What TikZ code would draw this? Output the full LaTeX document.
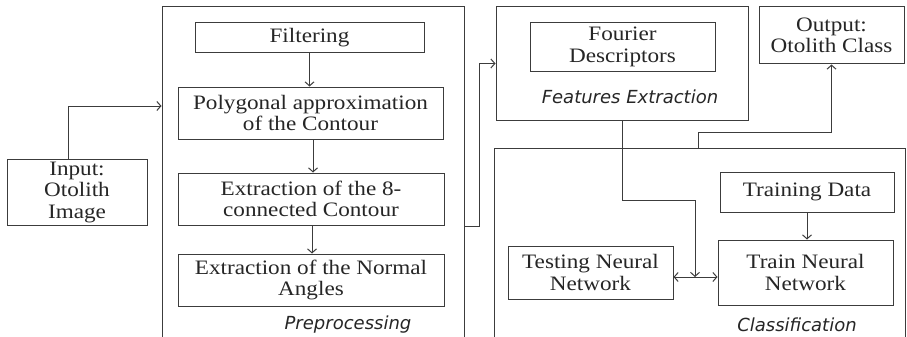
\documentclass[tikz,border=0pt]{standalone}
\usepackage{fontspec}
\setmainfont{Liberation Serif}[FakeStretch=1.13]
\newfontfamily\stagefont{DejaVu Sans}
\usetikzlibrary{arrows.meta}
\definecolor{linegray}{RGB}{60,60,60}

\begin{document}
\begin{tikzpicture}[x=1pt,y=-1pt,
  box/.style={draw=linegray, line width=1pt, inner sep=0pt, align=center,
    font=\fontsize{20.5}{21.5}\selectfont, text=black!85},
  frame/.style={draw=linegray, line width=1pt, inner sep=0pt},
  stagelabel/.style={font=\stagefont\itshape\fontsize{18}{20}\selectfont, text=black!85},
  conn/.style={draw=linegray, line width=1pt},
  arr/.style={conn, -{Straight Barb[length=4pt,width=9pt]}},
  darr/.style={conn, {Straight Barb[length=4pt,width=9pt]}-{Straight Barb[length=4pt,width=9pt]}}]

% canvas
\useasboundingbox[fill=white] (0,0) rectangle (907,337);
\clip (0,0) rectangle (907,337);

% stage frames (open below the canvas)
\node[frame, minimum width=302pt, minimum height=373pt] (prep) at (313,193.5) {};
\node[frame, minimum width=252pt, minimum height=113pt] (feat) at (622,63.5) {};
\node[frame, minimum width=411pt, minimum height=232pt] (cls) at (699.5,264) {};

% input and output
\node[box, minimum width=140pt, minimum height=66pt] (in) at (77,192)
  {Input:\\Otolith\\Image};
\node[box, minimum width=145pt, minimum height=57pt] (out) at (831.5,35.5)
  {Output:\\Otolith Class};

% preprocessing steps
\node[box, minimum width=229pt, minimum height=30pt] (filt) at (309.5,38) {Filtering};
\node[box, minimum width=265pt, minimum height=52pt] (poly) at (310.5,113)
  {Polygonal approximation\\of the Contour};
\node[box, minimum width=266pt, minimum height=52pt] (cont) at (311,199)
  {Extraction of the 8-\\connected Contour};
\node[box, minimum width=266pt, minimum height=52pt] (ang) at (311,280)
  {Extraction of the Normal\\Angles};
\node[stagelabel] (preplab) at (348,325) {Preprocessing};

% feature extraction
\node[box, minimum width=185pt, minimum height=48pt] (four) at (622.5,47)
  {Fourier\\Descriptors};
\node[stagelabel] (featlab) at (630,97) {Features Extraction};

% classification
\node[box, minimum width=174pt, minimum height=40pt] (tdata) at (807,192) {Training Data};
\node[box, minimum width=175pt, minimum height=65pt] (tnn) at (805.5,272.5)
  {Train Neural\\Network};
\node[box, minimum width=165pt, minimum height=53pt] (test) at (590.5,272.5)
  {Testing Neural\\Network};
\node[stagelabel] (clslab) at (797,325) {Classification};

% connectors
\draw[arr] ([xshift=-9pt]in.north) |- (prep.west |- 0,106);
\draw[arr] (filt.south) -- (filt.south |- poly.north);
\draw[arr] ([xshift=2.5pt]poly.south) -- ([xshift=2.5pt]poly.south |- cont.north);
\draw[arr] ([xshift=1pt]cont.south) -- ([xshift=1pt]cont.south |- ang.north);
\draw[arr] (prep.east |- 0,226) -- (479,226) |- (feat.west);
\coordinate (junc) at (695,277);
\draw[arr] (feat.south) -- (622,200) -| (junc);
\draw[darr] (test.east |- junc) -- (tnn.west |- junc);
\draw[arr] (tdata.south) -- (tdata.south |- tnn.north);
\draw[arr] (cls.north -| 698,0) -- (698,132) -| (out.south);
\end{tikzpicture}
\end{document}
